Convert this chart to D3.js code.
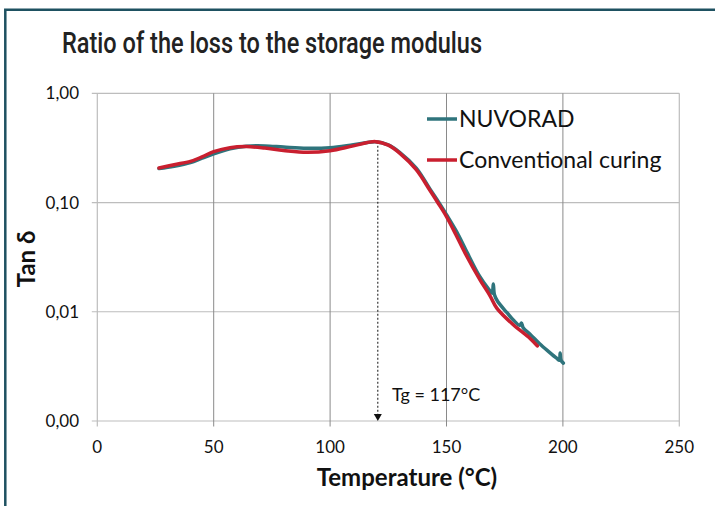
<!DOCTYPE html>
<html>
<head>
<meta charset="utf-8">
<script src="https://cdn.jsdelivr.net/npm/d3@7"></script>
<style>
  body { margin: 0; background: #fff; }
  svg { display: block; }
  text { font-family: Lato, "Open Sans", sans-serif; fill: #111; }
</style>
</head>
<body>
<div id="chart"></div>
<script>
// temperature (°C) and tan delta values
const nuvoradTemp = [26.5, 33, 40, 45, 50, 57, 64, 72, 80, 90, 100, 110, 119.5, 125, 130, 137, 143, 146.5, 150, 155, 159, 164, 168, 169.6, 170.1, 170.6, 172, 176, 178.7, 181.5, 182.2, 183, 186, 190, 194, 197.3, 198.5, 198.8, 199.2, 200.2];
const nuvoradTan = [0.205, 0.215, 0.232, 0.255, 0.279, 0.31, 0.328, 0.33, 0.322, 0.314, 0.318, 0.338, 0.36, 0.337, 0.287, 0.207, 0.132, 0.102, 0.0773, 0.051, 0.0344, 0.0215, 0.0162, 0.0148, 0.018, 0.0143, 0.0124, 0.0098, 0.0084, 0.0075, 0.0079, 0.0071, 0.0062, 0.0051, 0.0043, 0.00376, 0.0036, 0.0042, 0.0036, 0.00339];
const convTemp = [26.5, 33, 40, 45, 50, 57, 64, 72, 80, 90, 100, 110, 119.5, 125, 130, 137, 143, 146.5, 150, 154, 158, 164.4, 168.7, 171.6, 178.7, 185.9, 189];
const convTan = [0.207, 0.222, 0.238, 0.262, 0.292, 0.318, 0.325, 0.315, 0.3, 0.288, 0.298, 0.33, 0.361, 0.335, 0.282, 0.2, 0.128, 0.098, 0.0743, 0.051, 0.0344, 0.0196, 0.014, 0.0108, 0.0076, 0.0057, 0.00487];

const xTicks = [0, 50, 100, 150, 200, 250];
const yTicks = [0.001, 0.01, 0.1, 1];
const yTickLabels = ['0,00', '0,01', '0,10', '1,00'];

const seriesNames = ['NUVORAD', 'Conventional curing'];
const seriesColors = ['#2f747c', '#c91f2f'];
const tgTemp = 120.5, tgTan = 0.36;

const W = 715, H = 506;
const svg = d3.select('#chart').append('svg').attr('width', W).attr('height', H);

// frame: only top and left edges show
svg.append('path')
  .attr('d', 'M5.3,' + (H + 5) + ' V9.7 H' + (W + 5))
  .attr('fill', 'none').attr('stroke', '#1e5161').attr('stroke-width', 2.5);

svg.append('text')
  .attr('x', 272).attr('y', 53)
  .attr('text-anchor', 'middle')
  .attr('textLength', 420).attr('lengthAdjust', 'spacingAndGlyphs')
  .style('font-family', 'Roboto, sans-serif').style('font-weight', 500)
  .style('font-size', '29px').style('fill', '#222')
  .text('Ratio of the loss to the storage modulus');

const x = d3.scaleLinear().domain([0, 250]).range([97.3, 679.3]);
const y = d3.scaleLog().domain([0.001, 1]).range([421, 93.3]);

// gridlines
svg.append('g').selectAll('line').data(yTicks).enter().append('line')
  .attr('x1', x(0) - 5.5).attr('x2', x(250))
  .attr('y1', d => y(d)).attr('y2', d => y(d))
  .attr('stroke', '#bdbdbd').attr('stroke-width', 1.2);
svg.append('g').selectAll('line').data(xTicks).enter().append('line')
  .attr('x1', d => x(d)).attr('x2', d => x(d))
  .attr('y1', y(1)).attr('y2', y(0.001) + 5.5)
  .attr('stroke', d => (d === 0 || d === 250) ? '#bdbdbd' : '#8a8a8a')
  .attr('stroke-width', d => (d === 0 || d === 250) ? 1.2 : 1);

svg.append('g').selectAll('text').data(yTicks).enter().append('text')
  .attr('x', 79).attr('y', d => y(d)).attr('dy', '0.36em')
  .attr('text-anchor', 'end').style('font-size', '17px')
  .text((d, i) => yTickLabels[i]);
svg.append('g').selectAll('text').data(xTicks).enter().append('text')
  .attr('x', d => x(d)).attr('y', 453)
  .attr('text-anchor', 'middle').style('font-size', '17px')
  .text(d => d);

svg.append('text')
  .attr('x', 407).attr('y', 486).attr('text-anchor', 'middle')
  .style('font-size', '24px').style('font-weight', 'bold')
  .text('Temperature (°C)');
svg.append('text')
  .attr('transform', 'translate(35,259) rotate(-90)').attr('text-anchor', 'middle')
  .style('font-size', '24px').style('font-weight', 'bold')
  .text('Tan δ');

// Tg marker
svg.append('line')
  .attr('x1', x(tgTemp)).attr('x2', x(tgTemp))
  .attr('y1', y(tgTan)).attr('y2', y(0.001) - 6)
  .attr('stroke', '#111').attr('stroke-width', 1).attr('stroke-dasharray', '2,2');
svg.append('path')
  .attr('d', `M${x(tgTemp) - 4},${y(0.001) - 7} h8 l-4,7 z`)
  .attr('fill', '#111');
svg.append('text')
  .attr('x', 392).attr('y', 401).style('font-size', '18px')
  .text('Tg = 117°C');

const line = d3.line()
  .x(d => x(d[0])).y(d => y(d[1]))
  .curve(d3.curveCatmullRom.alpha(0.5));

const series = [
  d3.zip(nuvoradTemp, nuvoradTan),
  d3.zip(convTemp, convTan)
];
svg.append('g').selectAll('path').data(series).enter().append('path')
  .attr('d', line)
  .attr('fill', 'none')
  .attr('stroke', (d, i) => seriesColors[i])
  .attr('stroke-width', 3.5)
  .attr('stroke-linejoin', 'round').attr('stroke-linecap', 'round');

// legend
const legend = svg.append('g').selectAll('g').data(seriesNames).enter().append('g')
  .attr('transform', (d, i) => `translate(427,${i ? 160 : 119})`);
legend.append('line').attr('x1', 0).attr('x2', 30)
  .attr('stroke', (d, i) => seriesColors[i]).attr('stroke-width', 3.5);
legend.append('text').attr('x', 32).attr('dy', '0.36em')
  .style('font-size', '23px').text(d => d);
</script>
</body>
</html>
